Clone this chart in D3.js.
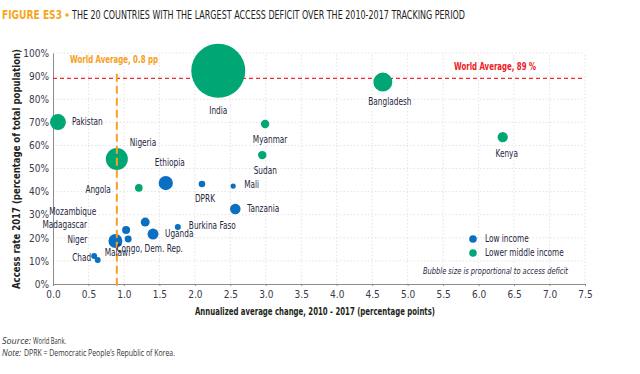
<!DOCTYPE html>
<html>
<head>
<meta charset="utf-8">
<script src="https://cdn.jsdelivr.net/npm/d3@7"></script>
<style>
  html, body { margin: 0; padding: 0; background: #fff; }
  svg { display: block; }
  .cond { font-family: "Liberation Sans Narrow", "DejaVu Sans Condensed", "Roboto Condensed", sans-serif; font-stretch: condensed; }
</style>
</head>
<body>
<svg id="chart" width="640" height="374"></svg>
<script>
// ---- Data ----
const countries = ["India","Pakistan","Nigeria","Ethiopia","Angola","DPRK","Mali","Myanmar","Sudan","Bangladesh","Kenya","Tanzania","Burkina Faso","Mozambique","Madagascar","Uganda","Niger","Congo, Dem. Rep.","Chad","Malawi"];
const annualChange = [2.33,0.07,0.90,1.59,1.21,2.10,2.54,2.99,2.95,4.65,6.34,2.57,1.76,1.30,1.03,1.41,1.06,0.88,0.58,0.63];
const accessRate   = [92.3,70.1,54.1,43.7,41.6,43.3,42.4,69.3,55.8,87.4,63.6,32.5,24.7,26.8,23.4,21.6,19.5,18.6,12.1,10.4];
const accessDeficit= [300,26,50,21,6.0,4.5,2.8,7.3,7.3,37,11,11.5,3.7,8.3,6.6,12.4,5.0,20,3.7,3.7];
const incomeGroup  = ["LMI","LMI","LMI","LI","LMI","LI","LI","LMI","LMI","LMI","LMI","LI","LI","LI","LI","LI","LI","LI","LI","LI"];
const xTicks = [0,0.5,1,1.5,2,2.5,3,3.5,4,4.5,5,5.5,6,6.5,7,7.5];
const yTicks = [0,10,20,30,40,50,60,70,80,90,100];
const worldAvgChange = 0.9;   // label reads 0.8 pp
const worldAvgAccess = 89;
const legendLabels = ["Low income","Lower middle income"];

// label placement (styling): [dx, dy, anchor]
const labelPlace = {
  "India":[0,40,"middle"], "Pakistan":[14,0,"start"], "Nigeria":[13,-16,"start"],
  "Ethiopia":[4,-20,"middle"], "Angola":[-28,2,"end"], "DPRK":[3,15,"middle"],
  "Mali":[11,-1,"start"], "Myanmar":[5,16,"middle"], "Sudan":[3,16,"middle"],
  "Bangladesh":[7,20,"middle"], "Kenya":[4,17,"middle"], "Tanzania":[12,0,"start"],
  "Burkina Faso":[11,-1,"start"], "Mozambique":[-49,-10,"end"], "Madagascar":[-39,-5,"end"],
  "Uganda":[12,0,"start"], "Niger":[-41,1,"end"], "Congo, Dem. Rep.":[1,8,"start"],
  "Chad":[-3,2,"end"], "Malawi":[7,-7,"start"]
};

const colors = { LI: "#0b6fc1", LMI: "#00a774" };
const svg = d3.select("#chart");
const x = d3.scaleLinear().domain([0, 7.5]).range([53, 585]);
const y = d3.scaleLinear().domain([0, 100]).range([284, 53]);
const r = d3.scaleSqrt().domain([0, d3.max(accessDeficit)]).range([0, 27]);
const SX = 0.82; // horizontal condensing for labels

// Title
svg.append("text").attr("class","cond").attr("x",2).attr("y",19)
  .attr("font-size",11.5).attr("font-weight","bold").attr("fill","#f5a71c")
  .attr("textLength",60).attr("lengthAdjust","spacingAndGlyphs").text("FIGURE ES3");
svg.append("circle").attr("cx",67).attr("cy",15).attr("r",1.8).attr("fill","#f5a71c");
svg.append("text").attr("class","cond").attr("x",72).attr("y",19)
  .attr("font-size",11.5).attr("fill","#231f20")
  .attr("textLength",393).attr("lengthAdjust","spacingAndGlyphs")
  .text("THE 20 COUNTRIES WITH THE LARGEST ACCESS DEFICIT OVER THE 2010-2017 TRACKING PERIOD");

// Grid
const g = svg.append("g");
g.selectAll(".gy").data(yTicks.filter(d=>d>0)).join("line")
  .attr("x1", x(0)).attr("x2", x(7.5)).attr("y1", d=>y(d)).attr("y2", d=>y(d))
  .attr("stroke","#dcdcdc").attr("stroke-width",0.8).attr("stroke-dasharray","1.5,2");
g.selectAll(".gx").data(xTicks.filter(d=>d>0)).join("line")
  .attr("x1", d=>x(d)).attr("x2", d=>x(d)).attr("y1", y(0)).attr("y2", y(100))
  .attr("stroke","#dcdcdc").attr("stroke-width",0.8).attr("stroke-dasharray","1.5,2");

// Axes
const xAxis = svg.append("g").attr("transform",`translate(0,${y(0)})`)
  .call(d3.axisBottom(x).tickValues(xTicks).tickFormat(d3.format(".1f")).tickSize(2).tickSizeOuter(0));
const yAxis = svg.append("g").attr("transform",`translate(${x(0)},0)`)
  .call(d3.axisLeft(y).tickValues(yTicks).tickFormat(d=>d+"%").tickSize(0).tickSizeOuter(0));
[xAxis, yAxis].forEach(a => {
  a.select(".domain").attr("stroke","#8c8c8c").attr("stroke-width",1);
  a.selectAll(".tick line").attr("stroke","#8c8c8c");
  a.selectAll(".tick text").attr("class","cond").attr("font-size",10).attr("fill","#3a3a4a");
});
xAxis.selectAll(".tick text").attr("dy","0.9em");
yAxis.selectAll(".tick text").attr("dx","-1");

// Axis titles
svg.append("text").attr("class","cond").attr("x",315).attr("y",315).attr("text-anchor","middle")
  .attr("font-size",10).attr("font-weight","bold").attr("fill","#231f20")
  .attr("textLength",240).attr("lengthAdjust","spacingAndGlyphs")
  .text("Annualized average change, 2010 - 2017 (percentage points)");
svg.append("text").attr("class","cond").attr("transform","translate(20,169) rotate(-90)")
  .attr("text-anchor","middle").attr("font-size",10).attr("font-weight","bold").attr("fill","#231f20")
  .attr("textLength",240).attr("lengthAdjust","spacingAndGlyphs")
  .text("Access rate 2017 (percentage of total population)");

// Reference lines
svg.append("line").attr("x1",x(0)).attr("x2",x(7.5)).attr("y1",y(worldAvgAccess)).attr("y2",y(worldAvgAccess))
  .attr("stroke","#ee2b2e").attr("stroke-width",1.3).attr("stroke-dasharray","4,3");

// Bubbles
const data = countries.map((c,i)=>({name:c, xv:annualChange[i], yv:accessRate[i], d:accessDeficit[i], grp:incomeGroup[i]}));
const sorted = data.slice().sort((a,b)=>b.d-a.d);
svg.append("g").selectAll("circle").data(sorted).join("circle")
  .attr("cx", d=>x(d.xv)).attr("cy", d=>y(d.yv)).attr("r", d=>r(d.d))
  .attr("fill", d=>colors[d.grp]);

svg.append("line").attr("x1",x(worldAvgChange)).attr("x2",x(worldAvgChange)).attr("y1",y(91)).attr("y2",y(0)+2)
  .attr("stroke","#f7a021").attr("stroke-width",2).attr("stroke-dasharray","8,4");

svg.append("text").attr("class","cond").attr("x",70).attr("y",63).attr("font-size",10.5).attr("font-weight","bold")
  .attr("fill","#f7a021").attr("textLength",88).attr("lengthAdjust","spacingAndGlyphs").text("World Average, 0.8 pp");
svg.append("text").attr("class","cond").attr("x",454).attr("y",70).attr("font-size",10.5).attr("font-weight","bold")
  .attr("fill","#ee2027").attr("textLength",82).attr("lengthAdjust","spacingAndGlyphs").text("World Average, 89 %");

// Labels
svg.append("g").selectAll("text").data(data).join("text").attr("class","cond")
  .attr("transform", d=>`translate(${x(d.xv)+labelPlace[d.name][0]},${y(d.yv)+labelPlace[d.name][1]}) scale(${SX},1)`)
  .attr("text-anchor", d=>labelPlace[d.name][2]).attr("dominant-baseline","middle")
  .attr("font-size",10).attr("fill","#262640").text(d=>d.name);

// Legend
const leg = svg.append("g");
["LI","LMI"].forEach((k,i)=>{
  leg.append("circle").attr("cx",473).attr("cy",239+i*14).attr("r",3.8).attr("fill",colors[k]);
  leg.append("text").attr("class","cond").attr("transform",`translate(485,${239+i*14}) scale(${SX},1)`)
    .attr("dominant-baseline","middle")
    .attr("font-size",10).attr("fill","#262640").text(legendLabels[i]);
});
svg.append("text").attr("class","cond").attr("x",568).attr("y",274).attr("text-anchor","end")
  .attr("font-size",9).attr("font-style","italic").attr("fill","#262640")
  .attr("textLength",145).attr("lengthAdjust","spacingAndGlyphs")
  .text("Bubble size is proportional to access deficit");

// Source / note
const font2 = "'Open Sans', 'DejaVu Sans', sans-serif";
svg.append("text").attr("x",2).attr("y",344).attr("font-family",font2)
  .attr("font-size",9).attr("fill","#333").attr("font-style","italic")
  .attr("textLength",29).attr("lengthAdjust","spacingAndGlyphs").text("Source:");
svg.append("text").attr("x",33).attr("y",344).attr("font-family",font2)
  .attr("font-size",9).attr("fill","#333").attr("textLength",33).attr("lengthAdjust","spacingAndGlyphs").text("World Bank.");
svg.append("text").attr("x",2).attr("y",356).attr("font-family",font2)
  .attr("font-size",9).attr("fill","#333").attr("font-style","italic")
  .attr("textLength",19).attr("lengthAdjust","spacingAndGlyphs").text("Note:");
svg.append("text").attr("x",24).attr("y",356).attr("font-family",font2)
  .attr("font-size",9).attr("fill","#333").attr("textLength",151).attr("lengthAdjust","spacingAndGlyphs")
  .text("DPRK = Democratic People\u2019s Republic of Korea.");
</script>
</body>
</html>
